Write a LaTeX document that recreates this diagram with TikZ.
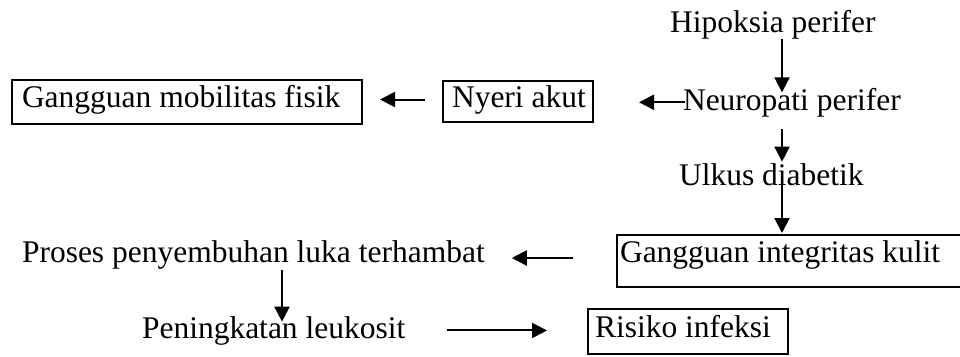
\documentclass[tikz,border=0pt]{standalone}
\usepackage{fontspec}
\setmainfont{Liberation Serif}
\usetikzlibrary{arrows.meta}
\newcommand{\lbox}[2]{\makebox[#1][l]{#2}}
\begin{document}
\begin{tikzpicture}[x=1pt,y=-1pt,
  txt/.style={anchor=base west,inner sep=0pt,outer sep=0pt,font=\fontsize{31.5}{36}\selectfont},
  box/.style={draw,line width=2pt,anchor=base west,inner ysep=0pt,outer sep=0pt,font=\fontsize{31.5}{36}\selectfont},
  arr/.style={line width=2pt,-{Triangle[length=15pt,width=15pt]}}]
\useasboundingbox (0,0) rectangle (960,356);
% text nodes
\node[txt] (hip) at (670,32) {Hipoksia perifer};
\node[txt] (neu) at (683,110) {Neuropati perifer};
\node[txt] (ulk) at (679,185) {Ulkus diabetik};
\node[txt] (pro) at (22,262) {Proses penyembuhan luka terhambat};
\node[txt] (pen) at (142,338) {Peningkatan leukosit};
% boxed nodes
\node[box,inner xsep=10pt,text height=27pt,text depth=17pt] (gmf) at (12,107) {\lbox{330pt}{Gangguan mobilitas fisik}};
\node[box,inner xsep=9pt,text height=26pt,text depth=15pt] (nye) at (443,107) {\lbox{132pt}{Nyeri akut}};
\node[box,inner xsep=3pt,text height=27pt,text depth=25pt] (gik) at (617,262) {\lbox{350pt}{Gangguan integritas kulit}};
\node[box,inner xsep=7pt,text height=28pt,text depth=17pt] (ris) at (588,337) {\lbox{186pt}{Risiko infeksi}};
% columns for vertical arrows
\coordinate (c1) at (782,0);
\coordinate (c2) at (282,0);
% connectors
\draw[arr,shorten >=-4.5pt] (hip.south -| c1) -- (neu.north -| c1);
\draw[arr,shorten <=12pt,shorten >=1.5pt] (neu.south -| c1) -- (ulk.north -| c1);
\draw[arr,shorten <=-2pt,shorten >=2pt] (ulk.south -| c1) -- (gik.north -| c1);
\draw[arr,shorten <=-2pt,shorten >=46pt] (neu.west) -- (neu.west -| nye.east);
\draw[arr,shorten <=18pt,shorten >=18pt] ([yshift=2pt]nye.west) -- ([yshift=2pt]nye.west -| gmf.east);
\draw[arr,shorten <=44pt,shorten >=27pt] ([yshift=3pt]gik.west) -- ([yshift=3pt]gik.west -| pro.east);
\draw[arr,shorten <=1pt,shorten >=-5.5pt] (pro.south -| c2) -- (pen.north -| c2);
\draw[arr,shorten <=42pt,shorten >=41pt] (pen.east) -- (pen.east -| ris.west);
\end{tikzpicture}
\end{document}
